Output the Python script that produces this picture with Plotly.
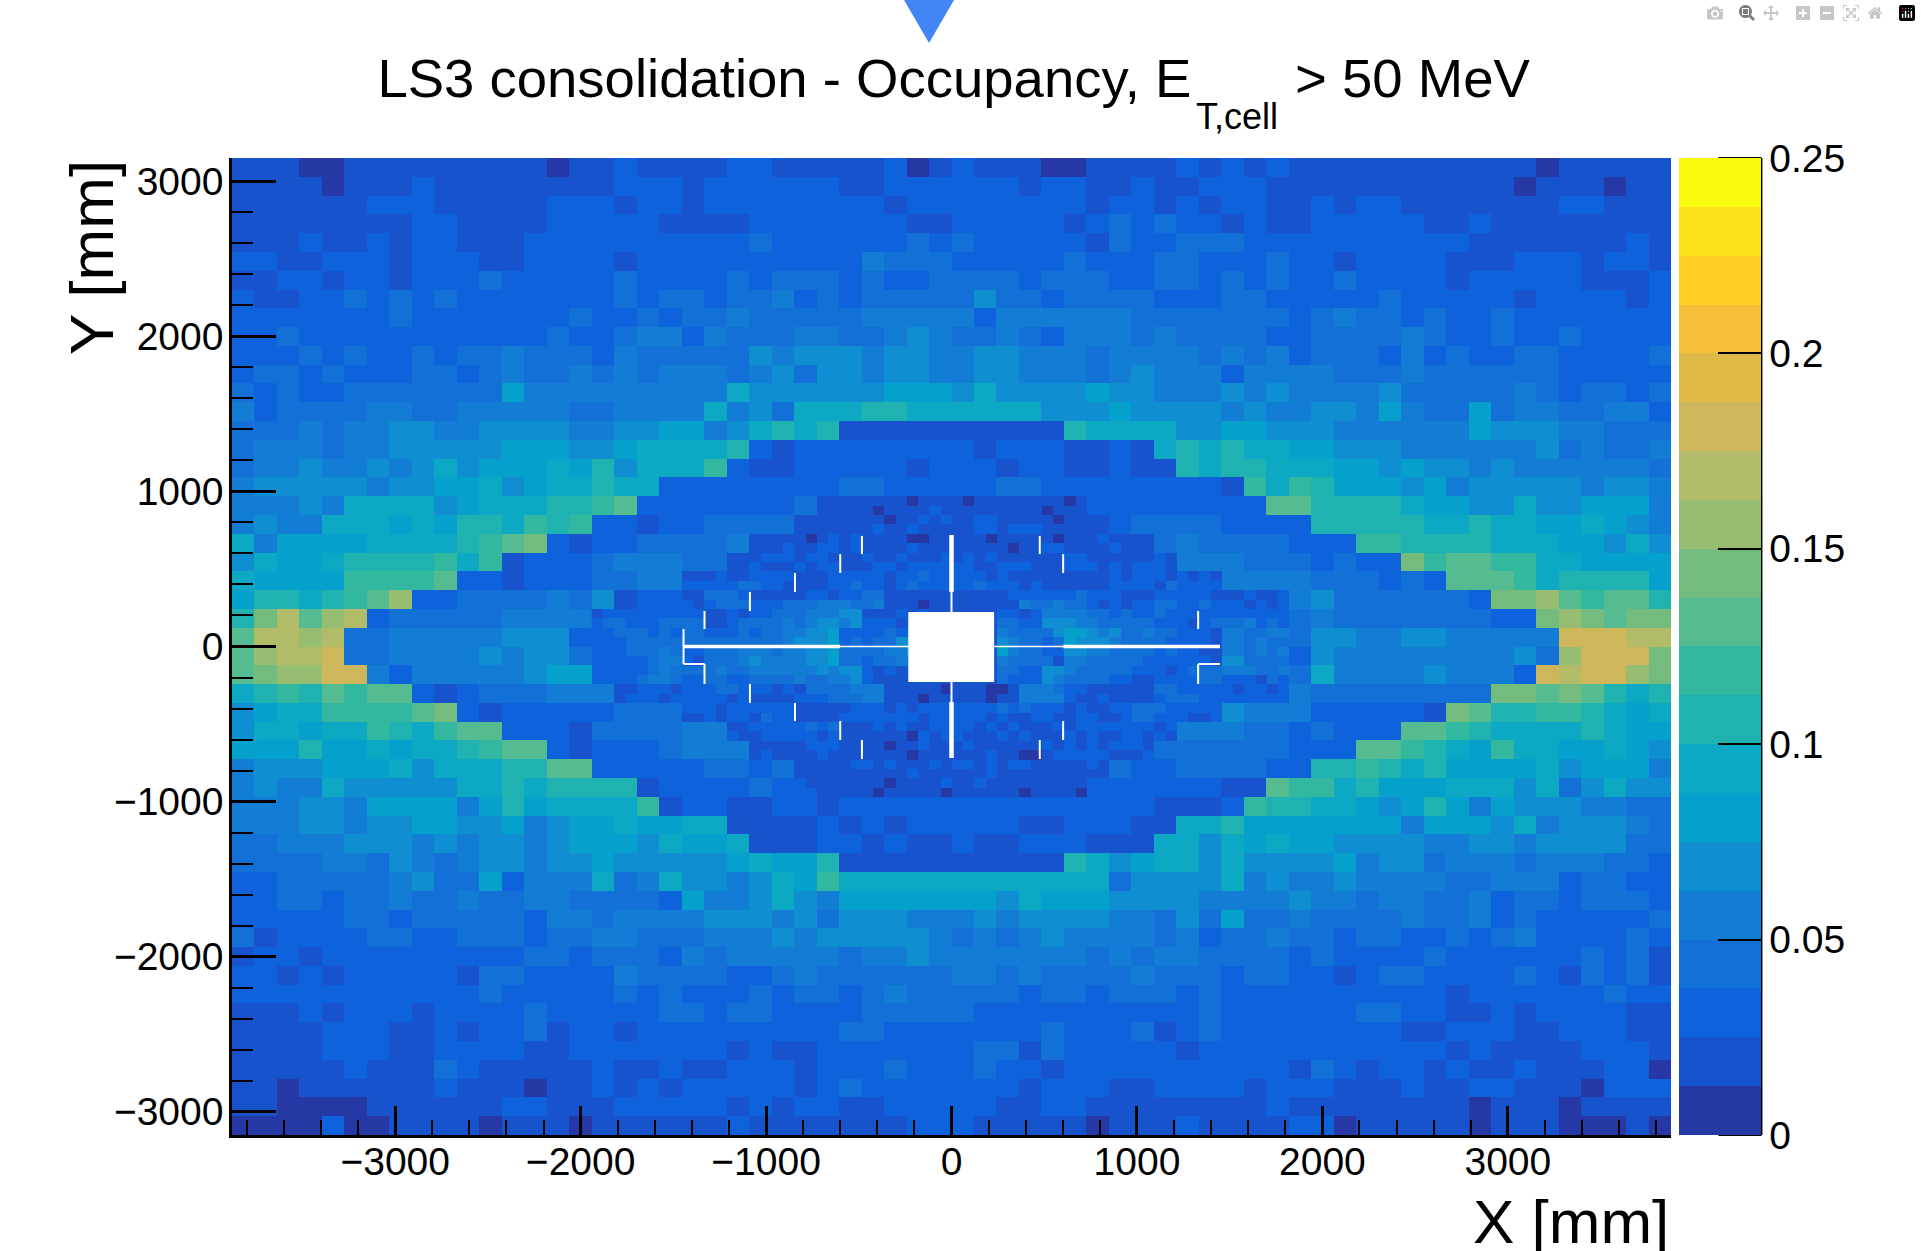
import plotly.graph_objects as go

# Occupancy bands: one character per cell, 0-f = colour band index
# (each band is 0.0125 wide).  Rows run top to bottom.
COARSE_ROWS = [
"11100111 11111101 12111122 11111201 21110011 11212121 11111111 11011111",
"11110111 21111111 12221222 22211222 22212211 21122211 11111111 10111011",
"11111122 21111122 21221222 22222122 22222212 21212211 21221111 11122111",
"11111111 22111122 22211112 22222211 22222123 23221211 22222112 11111111",
"11121121 22111222 22222223 22222232 32222213 22333222 22222221 11111121",
"22112221 22211222 21222222 22224333 22222322 23322232 21222211 12221221",
"11221221 22232222 23222232 33323223 33323332 23323232 23222212 22221112",
"21122323 23222222 23233233 42323333 35332333 32223322 22232222 21222212",
"22222223 22222223 22323343 33334444 42444444 33333332 34332322 32222222",
"22322222 22222232 23442433 34433454 33432444 34333322 33334322 32232222",
"22232322 32334333 24333335 45554554 45544434 44434342 33324232 23322223",
"23323222 33234334 34344434 53554554 45544434 54442444 43334333 33322222",
"32322333 33336444 44444475 55555666 57555565 54445454 44453333 34323323",
"42333344 33444443 34444745 37778877 77775556 55554544 55464336 34433442",
"33343445 54455554 45566457 87811111 11111877 77556655 54444446 55544333",
"34443445 55556665 56777782 12222222 21222112 17878776 65554444 44534334",
"34454454 57566676 85777921 12222212 22122112 11878877 76656554 54444443",
"45555545 56675677 87722222 22233222 22332222 22221979 86665645 55554554",
"44454777 75677788 9a222222 23111111 11111122 222222aa 88887665 57556664",
"45447776 76887989 22122333 31111111 11111112 33332222 88888778 77667654",
"74666677 7789ab21 22333341 12112211 12222112 23433332 22998888 77766575",
"57667888 89791222 34443322 22222222 22222212 23444333 2322b9aa 99776666",
"76666999 9a221222 33441222 11222212 21221111 22224444 333232aa a9788886",
"688789ac 22333343 52222222 22222211 11222222 22222224 53333332 bbca9aa8",
"8bdacd23 33334444 22222212 23334442 22333333 32222333 43333333 22bcbabb",
"addcd334 44445552 33332233 33334444 44555554 33332333 55445544 444eeedd",
"acdde334 44454553 22333322 33344443 44555444 33333322 54444444 453ceeeb",
"abccee42 44444566 22223333 34444554 44555444 33333223 74444544 42edeecb",
"7898a9aa 21233344 41221122 22212221 11222233 22222224 33333333 bbaba878",
"56779999 ab212222 23334422 22212112 12222322 22125444 222221ba 88998767",
"57767798 79aa2221 33334441 11112111 11111111 11444332 3222aa98 77778766",
"66686676 7789aa21 22234444 11122212 11112211 13333332 22aa9876 97766765",
"45556667 577788aa 22222332 34222212 11212233 22333322 88987866 66756664",
"45447555 55778788 88122223 22332212 11111122 222211a9 97866677 75735755",
"44455466 66468677 77912211 22122222 22222222 21112988 77656864 65554433",
"44455455 66556456 67667711 11212122 22211222 11778666 66664666 57455543",
"33444555 45455456 66576671 11221211 21122211 17757676 65555445 54555533",
"33334435 43455455 65555567 66811111 11111875 67757555 56455344 43444332",
"22333334 53362444 73475545 76977777 77777773 55557454 45444433 44423322",
"22332334 33433443 33326445 75466666 66576665 55544445 44344334 23323332",
"22222332 33333244 34444555 45355544 45455554 43536334 33334334 23222223",
"31222233 22333233 44333444 54555554 34345444 43423343 32332232 34222232",
"12212222 22222332 33324344 44434454 44444434 34433332 32222322 22223231",
"22121222 22133222 24333322 34333333 44343333 43332332 21233222 23213231",
"22222222 22232222 23232223 23323433 33323323 33232222 22222212 22222322",
"11121222 12222322 22233233 22223333 32222222 22232222 22332211 21222211",
"11112221 12122312 21222222 22233222 22223222 31232222 22221122 21122211",
"11112221 12222112 22222212 11222222 23313222 22122222 22222212 11112221",
"11111211 13211111 21121122 21222322 23221222 22222221 32122121 12111220",
"11011111 12111011 21212222 21232222 22212221 12222122 21112112 21110222",
"11000011 11112211 12222212 12211222 22112211 11111121 11111110 11101111",
"00002001 11101110 11111121 11111122 21111101 11211112 20111110 11100010",
]

# The finer cells around the beam pipe; "." = no finer cell there.
FINE_ROWS = [
"........ ........ ....1111 11110111 10111111 1101.... ........ ........",
"........ ........ ....1111 10111121 11111111 0111.... ........ ........",
"........ ........ ..111111 11011212 11221111 1011.... ........ ........",
"........ ........ ..111111 12112111 11221222 111111.. ........ ........",
"........ ......11 11101212 11110011 11101111 10111211 11...... ........",
"........ ......11 12112212 11112111 11111011 22111121 11...... ........",
"........ ....1112 22122111 21121112 12121111 11221111 1121.... ........",
"........ ....1121 11212211 12212222 22112221 11222121 2221.... ........",
"........ 11121122 22111222 22122322 22212111 11111121 22212121 ........",
"........ 22222332 21111223 22123222 22322212 11111122 22132222 ........",
"..112222 11333211 11122122 33111111 11111222 22232221 11222221 112112..",
"..112222 21233322 23334443 34111011 11111143 34332121 22332232 221212..",
"12222222 22112122 33344455 11121211 11112212 44443323 22322222 222222..",
"23322233 33112333 34345545 22212222 11113322 55544333 33222123 334232..",
"22333232 33222323 34455622 22323232 11114333 35665453 34332221 443344..",
"22233333 33333333 34555623 23356222 11115433 23655543 33322221 443433..",
"..233343 22333444 34455633 33446222 11116433 22554433 33232211 443434..",
"..222344 21333454 44455633 23343222 11114333 31443333 32222221 553333..",
"..222343 33343344 44445455 21212222 11113322 55433333 22212333 444334..",
"..223443 22332233 33433445 21111111 11113222 54333322 11222233 222132..",
"..112221 22233222 12133334 44111110 11100144 43221111 11332222 212212..",
"..122212 22221211 11222333 44111011 11101144 44211211 11233322 222222..",
"........ 22212222 22111112 22121222 22223232 22121122 33322222 ........",
"........ 11212213 22111122 22222122 22212112 21122112 33222112 ........",
"........ ....1122 22232311 12121122 22121211 12122222 2212.... ........",
"........ ....2112 22221211 11110212 21112121 11212112 2121.... ........",
"........ ......11 11122211 11011211 12111111 21212122 21...... ........",
"........ ......12 11112111 11110111 11121100 12222211 12...... ........",
"........ ........ ..111112 21211121 22121221 111121.. ........ ........",
"........ ........ ..111111 11112111 11121111 111111.. ........ ........",
"........ ........ ..211111 11011112 11211111 1111.... ........ ........",
"........ ........ ....1111 10111110 11111101 1110.... ........ ........",
]

BAND_COLORS = [
    "#2538a5", "#1653cc", "#0e63dd", "#1270d6", "#137dd6", "#0f8ed2", "#06a0cc",
    "#0ca8c4", "#20b2b0", "#33b8a0", "#55bb90", "#73bc7e", "#97bd72", "#b2bb68",
    "#cdb75a", "#e0ba48", "#f3c038", "#fecf27", "#fce31b", "#f9fb0e",
]
BAND_WIDTH = 0.0125
COLORBAR_TICKS = [0, 0.05, 0.1, 0.15, 0.2, 0.25]
COLORBAR_LABELS = ["0", "0.05", "0.1", "0.15", "0.2", "0.25"]

TITLE_MAIN = "LS3 consolidation - Occupancy, E"
TITLE_SUB = "T,cell"
TITLE_TAIL = "> 50 MeV"
X_TITLE = "X [mm]"
Y_TITLE = "Y [mm]"

# Dead areas in mm: beam hole, and white slits (x0, y0, x1, y1, line width)
BEAM_HOLE = (-233, -229, 230, 223)
SLITS = [
    (0, 719, 0, 352, 4.5), (0, 352, 0, 223, 2), (0, -229, 0, -358, 2), (0, -358, 0, -719, 4.5),
    (-1445, 0, -600, 0, 3.3), (-600, 0, -233, 0, 1.5), (230, 0, 602, 0, 1.5), (602, 0, 1448, 0, 3.3),
    (-1445, 113, -1445, -113, 2), (-1445, -113, -1332, -113, 2), (-1332, -113, -1332, -242, 2),
    (1330, -113, 1448, -113, 2), (1330, -113, 1330, -242, 2),
    (-1332, 229, -1332, 113, 2), (-1087, 352, -1087, 229, 2), (-844, 474, -844, 352, 2),
    (-600, 596, -600, 474, 2), (-483, 713, -483, 596, 2),
    (476, 713, 476, 596, 2), (602, 596, 602, 474, 2), (1330, 229, 1330, 113, 2),
    (-1087, -242, -1087, -364, 2), (-844, -364, -844, -481, 2), (-600, -481, -600, -603, 2),
    (-483, -603, -483, -726, 2), (602, -481, 602, -603, 2), (476, -603, 476, -726, 2),
]

X_HALF = 3880.0
Y_HALF = 3151.0
FONT = "Liberation Sans, Arial, sans-serif"

# page geometry (pixels)
W, H = 1921, 1251
L, R, T, B = 231.5, 1671.5, 158, 1135
PW, PH = R - L, B - T


def px(x):
    return (x - L) / PW


def py(y):
    return 1 - (y - T) / PH


def decode(rows):
    out = []
    for row in rows:
        cells = row.replace(" ", "")
        if len(cells) != 64:
            raise ValueError(f"bad row length {len(cells)}: {row}")
        out.append([None if c == "." else (int(c, 16) + 0.5) * BAND_WIDTH for c in cells])
    return out[::-1]  # bottom row first


n = len(BAND_COLORS)
scale = []
for i, c in enumerate(BAND_COLORS):
    scale += [[i / n, c], [(i + 1) / n, c]]

coarse = decode(COARSE_ROWS)
fine = decode(FINE_ROWS)
dx, dy = 2 * X_HALF / 64, 2 * Y_HALF / 52

fig = go.Figure()
fig.add_trace(go.Heatmap(z=coarse, x0=-X_HALF + dx / 2, dx=dx, y0=-Y_HALF + dy / 2, dy=dy,
                         coloraxis="coloraxis", hoverongaps=False))
fig.add_trace(go.Heatmap(z=fine, x0=-32 * dx / 2 + dx / 4, dx=dx / 2, y0=-16 * dy / 2 + dy / 4, dy=dy / 2,
                         coloraxis="coloraxis", hoverongaps=False))

shapes = [dict(type="rect", xref="x", yref="y", x0=BEAM_HOLE[0], y0=BEAM_HOLE[1], x1=BEAM_HOLE[2], y1=BEAM_HOLE[3],
               fillcolor="white", line=dict(width=0), layer="above")]
for x0, y0, x1, y1, w in SLITS:
    shapes.append(dict(type="line", xref="x", yref="y", x0=x0, y0=y0, x1=x1, y1=y1,
                       line=dict(color="white", width=w), layer="above"))
# pointer triangle at the top of the page
shapes.append(dict(type="path", xref="paper", yref="paper",
                   path=f"M {px(904)},{py(0)} L {px(954)},{py(0)} L {px(929)},{py(43)} Z",
                   fillcolor="#4285f4", line=dict(width=0)))
# right edge, bottom edge and end ticks of the colour bar
shapes.append(dict(type="line", xref="paper", yref="paper", x0=px(1762), x1=px(1762), y0=0, y1=1,
                   line=dict(color="black", width=2)))
shapes.append(dict(type="line", xref="paper", yref="paper", x0=px(1719), x1=px(1762), y0=0, y1=0,
                   line=dict(color="black", width=2)))
shapes.append(dict(type="line", xref="paper", yref="paper", x0=px(1719), x1=px(1762), y0=1, y1=1,
                   line=dict(color="black", width=2)))

tickfont = dict(family=FONT, size=39, color="black")
fig.update_layout(
    width=W, height=H, autosize=False,
    margin=dict(l=L, r=W - R, t=T, b=H - B, pad=0),
    paper_bgcolor="white", plot_bgcolor="white",
    title=dict(text=TITLE_MAIN, x=px(377), xanchor="left", xref="paper", y=1 - 78 / H, yanchor="middle", yref="container",
               font=dict(family=FONT, size=54.5, color="black")),
    coloraxis=dict(
        colorscale=scale, cmin=0, cmax=n * BAND_WIDTH,
        colorbar=dict(
            x=px(1680), xanchor="left", xpad=0, y=0.5, yanchor="middle", ypad=0,
            lenmode="pixels", len=PH, thicknessmode="pixels", thickness=82,
            tickmode="array", tickvals=COLORBAR_TICKS, ticktext=COLORBAR_LABELS,
            ticks="inside", ticklen=43, tickwidth=2, tickcolor="black",
            tickfont=tickfont, outlinewidth=0, ticklabelposition="outside",
        ),
    ),
    xaxis=dict(range=[-X_HALF, X_HALF], tick0=0, dtick=1000, ticks="inside", ticklen=29, tickwidth=2.5,
               ticklabelstandoff=-10,
               tickcolor="black", showline=True, linecolor="black", linewidth=2.5, showgrid=False, zeroline=False,
               tickfont=tickfont, minor=dict(tick0=0, dtick=200, ticks="inside", ticklen=15, tickwidth=2,
                                             tickcolor="black", showgrid=False)),
    yaxis=dict(range=[-Y_HALF, Y_HALF], tick0=0, dtick=1000, ticks="inside", ticklen=44, tickwidth=2.5,
               ticklabelstandoff=-2,
               tickcolor="black", showline=True, linecolor="black", linewidth=2.5, showgrid=False, zeroline=False,
               tickfont=tickfont, minor=dict(tick0=0, dtick=200, ticks="inside", ticklen=21, tickwidth=2,
                                             tickcolor="black", showgrid=False)),
    shapes=shapes,
    annotations=[
        dict(text=TITLE_SUB, xref="paper", yref="paper", x=px(1194), y=py(116), xanchor="left", yanchor="middle",
             showarrow=False, font=dict(family=FONT, size=36, color="black"), xshift=0),
        dict(text=TITLE_TAIL, xref="paper", yref="paper", x=px(1293), y=py(78), xanchor="left", yanchor="middle",
             showarrow=False, font=dict(family=FONT, size=54.5, color="black")),
        dict(text=X_TITLE, xref="paper", yref="paper", x=1, y=py(1221), xanchor="right", yanchor="middle",
             showarrow=False, font=dict(family=FONT, size=62, color="black")),
        dict(text=Y_TITLE, xref="paper", yref="paper", x=px(91), y=1, xanchor="center", yanchor="top", textangle=-90,
             showarrow=False, font=dict(family=FONT, size=62, color="black")),
    ],
)
fig.write_html("out.html", post_script="document.body.style.margin='0';")
